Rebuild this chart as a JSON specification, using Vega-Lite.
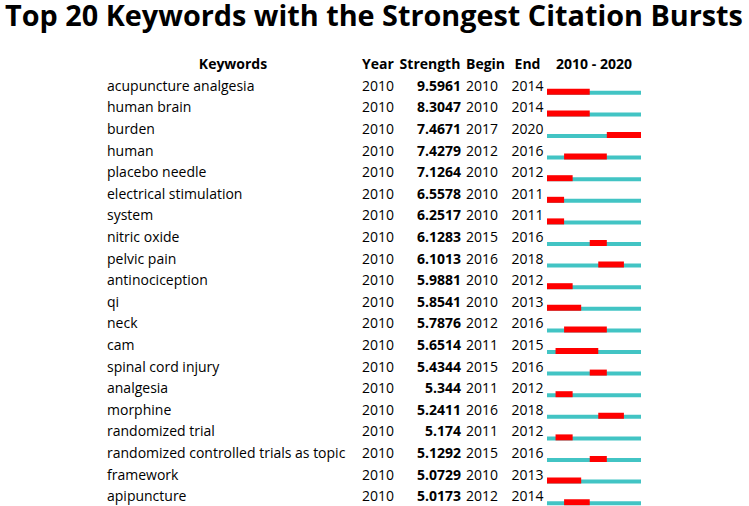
{
  "$schema": "https://vega.github.io/schema/vega-lite/v6.json",
  "background": "white",
  "padding": {"left": 5, "top": 3, "right": 1, "bottom": 0},
  "title": {"text": "Top 20 Keywords with the Strongest Citation Bursts", "font": "Open Sans", "fontSize": 28.8, "fontWeight": "bold", "color": "black", "anchor": "middle", "offset": 26},
  "config": {
    "view": {"stroke": null},
    "concat": {"spacing": 0},
    "text": {"font": "Open Sans", "fontSize": 14, "color": "black"},
    "title": {"font": "Open Sans", "fontSize": 14, "fontWeight": "bold", "color": "black"}
  },
  "data": {"values": [
    {"keyword": "acupuncture analgesia", "year": 2010, "strength": 9.5961, "begin": 2010, "end": 2014},
    {"keyword": "human brain", "year": 2010, "strength": 8.3047, "begin": 2010, "end": 2014},
    {"keyword": "burden", "year": 2010, "strength": 7.4671, "begin": 2017, "end": 2020},
    {"keyword": "human", "year": 2010, "strength": 7.4279, "begin": 2012, "end": 2016},
    {"keyword": "placebo needle", "year": 2010, "strength": 7.1264, "begin": 2010, "end": 2012},
    {"keyword": "electrical stimulation", "year": 2010, "strength": 6.5578, "begin": 2010, "end": 2011},
    {"keyword": "system", "year": 2010, "strength": 6.2517, "begin": 2010, "end": 2011},
    {"keyword": "nitric oxide", "year": 2010, "strength": 6.1283, "begin": 2015, "end": 2016},
    {"keyword": "pelvic pain", "year": 2010, "strength": 6.1013, "begin": 2016, "end": 2018},
    {"keyword": "antinociception", "year": 2010, "strength": 5.9881, "begin": 2010, "end": 2012},
    {"keyword": "qi", "year": 2010, "strength": 5.8541, "begin": 2010, "end": 2013},
    {"keyword": "neck", "year": 2010, "strength": 5.7876, "begin": 2012, "end": 2016},
    {"keyword": "cam", "year": 2010, "strength": 5.6514, "begin": 2011, "end": 2015},
    {"keyword": "spinal cord injury", "year": 2010, "strength": 5.4344, "begin": 2015, "end": 2016},
    {"keyword": "analgesia", "year": 2010, "strength": 5.344, "begin": 2011, "end": 2012},
    {"keyword": "morphine", "year": 2010, "strength": 5.2411, "begin": 2016, "end": 2018},
    {"keyword": "randomized trial", "year": 2010, "strength": 5.174, "begin": 2011, "end": 2012},
    {"keyword": "randomized controlled trials as topic", "year": 2010, "strength": 5.1292, "begin": 2015, "end": 2016},
    {"keyword": "framework", "year": 2010, "strength": 5.0729, "begin": 2010, "end": 2013},
    {"keyword": "apipuncture", "year": 2010, "strength": 5.0173, "begin": 2012, "end": 2014}
  ]},
  "hconcat": [
    {
      "width": 252, "height": 432,
      "title": {"text": "Keywords", "anchor": "middle", "offset": 4},
      "mark": {"type": "text", "align": "left", "baseline": "middle"},
      "encoding": {
        "y": {"field": "keyword", "type": "nominal", "sort": null, "axis": null, "scale": {"paddingInner": 0, "paddingOuter": 0}},
        "x": {"datum": 0, "type": "quantitative", "scale": {"domain": [0, 1]}, "axis": null},
        "text": {"field": "keyword", "type": "nominal"}
      }
    },
    {
      "width": 38, "height": 432,
      "title": {"text": "Year", "anchor": "middle", "offset": 4},
      "mark": {"type": "text", "align": "center", "baseline": "middle"},
      "encoding": {
        "y": {"field": "keyword", "type": "nominal", "sort": null, "axis": null, "scale": {"paddingInner": 0, "paddingOuter": 0}},
        "text": {"field": "year", "type": "nominal"}
      }
    },
    {
      "width": 66, "height": 432,
      "title": {"text": "Strength", "anchor": "middle", "offset": 4},
      "mark": {"type": "text", "align": "right", "baseline": "middle", "fontWeight": "bold", "dx": -2},
      "encoding": {
        "y": {"field": "keyword", "type": "nominal", "sort": null, "axis": null, "scale": {"paddingInner": 0, "paddingOuter": 0}},
        "x": {"datum": 1, "type": "quantitative", "scale": {"domain": [0, 1]}, "axis": null},
        "text": {"field": "strength", "type": "nominal"}
      }
    },
    {
      "width": 45, "height": 432,
      "title": {"text": "Begin", "anchor": "start", "offset": 4, "dx": 3},
      "mark": {"type": "text", "align": "left", "baseline": "middle", "dx": 3},
      "encoding": {
        "y": {"field": "keyword", "type": "nominal", "sort": null, "axis": null, "scale": {"paddingInner": 0, "paddingOuter": 0}},
        "x": {"datum": 0, "type": "quantitative", "scale": {"domain": [0, 1]}, "axis": null},
        "text": {"field": "begin", "type": "nominal"}
      }
    },
    {
      "width": 39, "height": 432,
      "title": {"text": "End", "anchor": "middle", "offset": 4},
      "mark": {"type": "text", "align": "center", "baseline": "middle"},
      "encoding": {
        "y": {"field": "keyword", "type": "nominal", "sort": null, "axis": null, "scale": {"paddingInner": 0, "paddingOuter": 0}},
        "text": {"field": "end", "type": "nominal"}
      }
    },
    {
      "width": 94, "height": 432,
      "title": {"text": "2010 - 2020", "anchor": "middle", "offset": 4},
      "encoding": {
        "y": {"field": "keyword", "type": "nominal", "sort": null, "axis": null, "scale": {"paddingInner": 0, "paddingOuter": 0}}
      },
      "layer": [
        {
          "mark": {"type": "bar", "color": "#42c4c4", "height": 4, "yOffset": 6},
          "encoding": {
            "x": {"datum": 2010, "type": "ordinal", "bandPosition": 0, "axis": null, "scale": {"domain": [2010, 2011, 2012, 2013, 2014, 2015, 2016, 2017, 2018, 2019, 2020], "paddingInner": 0, "paddingOuter": 0}},
            "x2": {"datum": 2020, "bandPosition": 1}
          }
        },
        {
          "mark": {"type": "bar", "color": "#ff0000", "height": 6, "yOffset": 5},
          "encoding": {
            "x": {"field": "begin", "type": "ordinal", "bandPosition": 0},
            "x2": {"field": "end", "bandPosition": 1}
          }
        }
      ]
    }
  ]
}
